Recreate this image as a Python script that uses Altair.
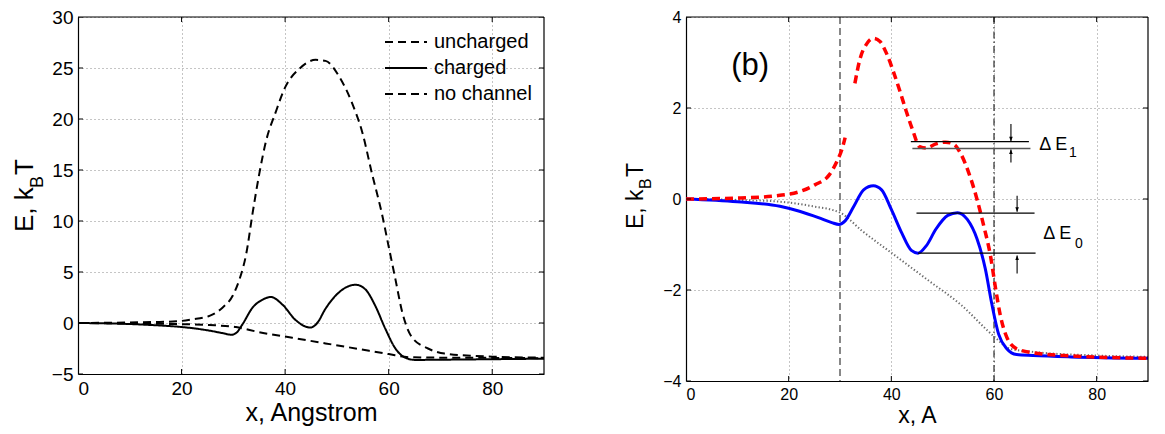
import altair as alt
import pandas as pd

FONT = "Liberation Sans"

# ---------------- panel (a) ----------------
a_unch_x = [0, 10, 15, 19, 22, 25.4, 27.9, 29.9, 31.2, 32.5, 33.7, 35.0, 36.3, 38.2, 40.1, 42.7, 45.9, 47.8,
            50.4, 52.9, 54.9, 56.8, 58.7, 60.0, 61.3, 62.6, 64.5, 67.6, 70.8, 80, 90]
a_unch_y = [0, 0.05, 0.1, 0.16, 0.35, 0.7, 1.5, 2.7, 4.3, 6.8, 10.7, 14.6, 17.8, 20.7, 23.2, 24.9, 25.8, 25.7,
            24.2, 21.6, 18.7, 14.6, 10.7, 7.5, 4.3, 1.1, -1.4, -2.5, -3.0, -3.3, -3.4]

a_ch_x = [0, 10, 15, 19, 22, 25.4, 28, 29.6, 30.5, 31.8, 33.7, 35.7, 37.2, 39.5, 42.0, 44.9, 46.2, 47.8,
          50.4, 53.6, 55.5, 57.4, 59.3, 61.3, 63.2, 65.1, 70, 80, 90]
a_ch_y = [0, -0.1, -0.22, -0.35, -0.5, -0.75, -1.0, -1.15, -1.0, -0.1, 1.5, 2.3, 2.55, 1.8, 0.3, -0.45, 0.0, 1.4,
          3.0, 3.75, 3.3, 1.7, -0.5, -2.5, -3.4, -3.62, -3.6, -3.55, -3.5]

a_nc_x = [0, 10, 19, 25.4, 30.5, 35, 41.4, 47.8, 54.2, 60, 63.8, 70.8, 80, 90]
a_nc_y = [0, -0.05, -0.1, -0.2, -0.4, -0.9, -1.45, -2.0, -2.55, -3.05, -3.35, -3.4, -3.42, -3.45]

a_series = ["uncharged", "charged", "no channel"]
a_dashes = [[8, 5], [1, 0], [8, 5]]
a_xticks = [0, 20, 40, 60, 80]
a_yticks = [-5, 0, 5, 10, 15, 20, 25, 30]

# ---------------- panel (b) ----------------
b_red1_x = [0, 10, 18.3, 22.1, 25.1, 27.9, 29.5, 30.4, 31.0]
b_red1_y = [0, 0.02, 0.08, 0.16, 0.31, 0.53, 0.85, 1.10, 1.35]
b_red2_x = [32.9, 33.9, 35.2, 36.5, 37.8, 39.1, 40.4, 41.7, 42.9, 44.2, 45.5, 46.8, 48.7, 50.6, 52.2, 53.5,
            55.1, 56.7, 58.0, 59.3, 60.3, 61.2, 62.5, 64.4, 67.6, 75, 90]
b_red2_y = [2.54, 3.08, 3.41, 3.53, 3.46, 3.19, 2.80, 2.36, 1.93, 1.50, 1.15, 1.12, 1.21, 1.25, 1.20, 1.00,
            0.57, -0.01, -0.59, -1.24, -1.96, -2.54, -3.04, -3.29, -3.38, -3.45, -3.5]

b_blue_x = [0, 10, 18.3, 22.1, 25.8, 28.4, 29.8, 31.0, 32.7, 34.6, 36.5, 38.1, 40.0, 42.0, 43.9, 45.2, 46.8,
            48.7, 51.0, 52.9, 54.8, 56.7, 58.3, 59.6, 60.9, 62.5, 64.4, 67.6, 75, 90]
b_blue_y = [0, -0.06, -0.16, -0.27, -0.41, -0.52, -0.56, -0.48, -0.16, 0.20, 0.29, 0.20, -0.23, -0.74, -1.13,
            -1.19, -1.03, -0.66, -0.36, -0.30, -0.45, -0.88, -1.53, -2.32, -2.97, -3.29, -3.42, -3.44, -3.47, -3.5]

b_gray_x = [0, 10, 18.3, 24.7, 30.0, 34.3, 40.7, 47.1, 53.5, 59.9, 63.1, 67.6, 80, 90]
b_gray_y = [0, -0.02, -0.06, -0.16, -0.30, -0.70, -1.24, -1.78, -2.32, -3.01, -3.29, -3.36, -3.44, -3.47]

b_xticks = [0, 20, 40, 60, 80]
b_yticks = [-4, -2, 0, 2, 4]

b_vdash_x = [30]
b_vdashdot_x = [60]

# level lines for Delta E annotations
b_lvl_x = [43.8, 44.1, 44.9, 45.2]
b_lvl_x2 = [66.8, 67.1, 67.9, 68.1]
b_lvl_y = [1.26, 1.11, -0.31, -1.19]
b_lvl_col = ["#000000", "#555555", "#000000", "#000000"]

# arrows: x, tail, tip, direction
b_arr_x = [63.3, 63.3, 64.5, 64.5]
b_arr_tail = [1.65, 0.80, 0.07, -1.64]
b_arr_tip = [1.27, 1.09, -0.28, -1.24]
b_arr_dir = ["down", "up", "down", "up"]

b_txt = ["Δ E", "1", "Δ E", "0", "(b)"]
b_txt_x = [68.8, 74.6, 69.6, 75.8, 12.5]
b_txt_y = [1.08, 0.92, -0.88, -1.08, 2.92]
b_txt_fs = [18, 14, 18, 14, 31]
b_txt_base = ["alphabetic", "alphabetic", "alphabetic", "alphabetic", "middle"]

# y-axis title pieces: text, font size, pixel offsets (x, y) relative to plot
a_ytitle = ["E, k", "B", "T"]
a_ytitle_fs = [26, 18, 26]
a_ytitle_px = [-45, -35, -45]
a_ytitle_py = [215, 171, 158]

b_ytitle = ["E, k", "B", "T"]
b_ytitle_fs = [23, 16, 23]
b_ytitle_px = [-43, -35, -43]
b_ytitle_py = [212, 172, 160]

LW, LH = 466, 357
RW, RH = 462, 364
TICK = 5


def frame(name, xs, ys):
    return pd.DataFrame({"x": xs, "y": ys, "series": name})


GRID = dict(grid=True, gridDash=[1, 3], gridColor="#8a8a8a", gridWidth=1, ticks=False,
            domain=True, domainColor="black", domainWidth=1.2,
            labelColor="black", titleColor="black", titleFontWeight="normal", labelFont=FONT, titleFont=FONT)


def ytitle_layer(texts, fss, pxs, pys):
    df = pd.DataFrame({"t": texts, "fs": fss, "px": pxs, "py": pys})
    return alt.Chart(df).mark_text(angle=270, align="left", baseline="alphabetic", font=FONT,
                                   color="black").encode(
        x=alt.X("px:Q", scale=None), y=alt.Y("py:Q", scale=None), text="t:N",
        size=alt.Size("fs:Q", scale=None, legend=None))


def box_layers():
    d = pd.DataFrame({"k": [0]})
    top = alt.Chart(d).mark_rule(color="black", strokeWidth=1.2).encode(
        x=alt.value(0), x2=alt.value("width"), y=alt.value(0))
    rgt = alt.Chart(d).mark_rule(color="black", strokeWidth=1.2).encode(
        x=alt.value("width"), y=alt.value(0), y2=alt.value("height"))
    return [top, rgt]


def tick_layers(X, Y, xvals, yvals):
    # MATLAB-style inward ticks: ticks centred on the frame, clipped to the plot area
    dx = pd.DataFrame({"x": xvals})
    dy = pd.DataFrame({"y": yvals})
    opts = dict(color="black", thickness=1, size=2 * TICK, clip=True, opacity=1)
    bottom = alt.Chart(dx).mark_tick(orient="vertical", **opts).encode(x=X, y=alt.value("height"))
    top = alt.Chart(dx).mark_tick(orient="vertical", **opts).encode(x=X, y=alt.value(0))
    left = alt.Chart(dy).mark_tick(orient="horizontal", **opts).encode(y=Y, x=alt.value(0))
    right = alt.Chart(dy).mark_tick(orient="horizontal", **opts).encode(y=Y, x=alt.value("width"))
    return [bottom, top, left, right]


# ---------- left chart ----------
left_df = pd.concat([frame(a_series[0], a_unch_x, a_unch_y),
                     frame(a_series[1], a_ch_x, a_ch_y),
                     frame(a_series[2], a_nc_x, a_nc_y)])

xa = alt.X("x:Q", scale=alt.Scale(domain=[0, 90], nice=False, zero=False),
           axis=alt.Axis(title="x, Angstrom", values=a_xticks, labelFontSize=19, titleFontSize=25,
                         labelPadding=5, titlePadding=2, **GRID))
ya = alt.Y("y:Q", scale=alt.Scale(domain=[-5, 30], nice=False, zero=False),
           axis=alt.Axis(title=None, values=a_yticks, labelFontSize=19, labelPadding=5, **GRID))

left_lines = alt.Chart(left_df).mark_line(color="black", strokeWidth=2, interpolate="monotone").encode(
    x=xa, y=ya,
    strokeDash=alt.StrokeDash("series:N", scale=alt.Scale(domain=a_series, range=a_dashes),
                              legend=alt.Legend(title=None, orient="top-right", offset=12, padding=0,
                                                symbolType="stroke", symbolSize=1764, symbolStrokeWidth=2,
                                                symbolStrokeColor="black", clipHeight=26, rowPadding=0,
                                                labelFontSize=20, labelFont=FONT, labelColor="black",
                                                labelOffset=6)),
    detail="series:N")

left = alt.layer(left_lines, *box_layers(), *tick_layers(xa, ya, a_xticks, a_yticks),
                 ytitle_layer(a_ytitle, a_ytitle_fs, a_ytitle_px, a_ytitle_py)).properties(
    width=LW, height=LH)

# ---------- right chart ----------
xb = alt.X("x:Q", scale=alt.Scale(domain=[0, 90], nice=False, zero=False),
           axis=alt.Axis(title="x, A", values=b_xticks, labelFontSize=16, titleFontSize=23,
                         labelPadding=5, titlePadding=2, **GRID))
yb = alt.Y("y:Q", scale=alt.Scale(domain=[-4, 4], nice=False, zero=False),
           axis=alt.Axis(title=None, values=b_yticks, labelFontSize=16, labelPadding=5, **GRID))

red_df = pd.concat([frame("r1", b_red1_x, b_red1_y), frame("r2", b_red2_x, b_red2_y)])

gray_line = alt.Chart(frame("g", b_gray_x, b_gray_y)).mark_line(
    color="#6a6a6a", strokeWidth=2, strokeDash=[1.3, 2.2], interpolate="monotone").encode(x=xb, y=yb)
blue_line = alt.Chart(frame("b", b_blue_x, b_blue_y)).mark_line(
    color="#0000ff", strokeWidth=3, interpolate="monotone").encode(x=xb, y=yb)
red_line = alt.Chart(red_df).mark_line(
    color="#ff0000", strokeWidth=3.5, strokeDash=[8, 5], interpolate="monotone").encode(
    x=xb, y=yb, detail="series:N")

vdash = alt.Chart(pd.DataFrame({"x": b_vdash_x})).mark_rule(
    color="#555555", strokeWidth=1.4, strokeDash=[7, 4]).encode(x=xb)
vdashdot = alt.Chart(pd.DataFrame({"x": b_vdashdot_x})).mark_rule(
    color="black", strokeWidth=1, strokeDash=[7, 3, 1.5, 3]).encode(x=xb)

lvl = alt.Chart(pd.DataFrame({"x": b_lvl_x, "x2": b_lvl_x2, "y": b_lvl_y, "c": b_lvl_col})).mark_rule(
    strokeWidth=1.3).encode(x=xb, x2="x2:Q", y=yb, color=alt.Color("c:N", scale=None))

arr_df = pd.DataFrame({"x": b_arr_x, "y": b_arr_tail, "y2": b_arr_tip, "dir": b_arr_dir})
arr_stem = alt.Chart(arr_df).mark_rule(color="black", strokeWidth=1.1).encode(x=xb, y=yb, y2="y2:Q")
head_down = alt.Chart(arr_df).transform_filter(alt.datum.dir == "down").mark_point(
    shape="M-0.6,-1.5L0,0L0.6,-1.5Z", filled=True, color="black", size=36, opacity=1).encode(
    x=xb, y=alt.Y("y2:Q", scale=alt.Scale(domain=[-4, 4], nice=False, zero=False)))
head_up = alt.Chart(arr_df).transform_filter(alt.datum.dir == "up").mark_point(
    shape="M-0.6,1.5L0,0L0.6,1.5Z", filled=True, color="black", size=36, opacity=1).encode(
    x=xb, y=alt.Y("y2:Q", scale=alt.Scale(domain=[-4, 4], nice=False, zero=False)))

txt_df = pd.DataFrame({"x": b_txt_x, "y": b_txt_y, "t": b_txt, "fs": b_txt_fs, "base": b_txt_base})
txt_small = alt.Chart(txt_df).transform_filter(alt.datum.base == "alphabetic").mark_text(
    align="left", baseline="alphabetic", font=FONT, color="black").encode(
    x=xb, y=yb, text="t:N", size=alt.Size("fs:Q", scale=None, legend=None))
txt_b = alt.Chart(txt_df).transform_filter(alt.datum.base == "middle").mark_text(
    align="center", baseline="middle", font=FONT, color="black").encode(
    x=xb, y=yb, text="t:N", size=alt.Size("fs:Q", scale=None, legend=None))

right = alt.layer(vdash, vdashdot, gray_line, blue_line, red_line, lvl, arr_stem, head_down, head_up,
                  txt_small, txt_b, *box_layers(), *tick_layers(xb, yb, b_xticks, b_yticks),
                  ytitle_layer(b_ytitle, b_ytitle_fs, b_ytitle_px, b_ytitle_py)).properties(
    width=RW, height=RH)

chart = alt.hconcat(left, right, spacing=77).resolve_legend(
    strokeDash="independent", size="independent"
).properties(
    padding={"left": 4, "top": 0, "right": 0, "bottom": 0}, background="white"
).configure_view(strokeWidth=0)

chart.save("out.html", embed_options={"renderer": "svg", "actions": False})
